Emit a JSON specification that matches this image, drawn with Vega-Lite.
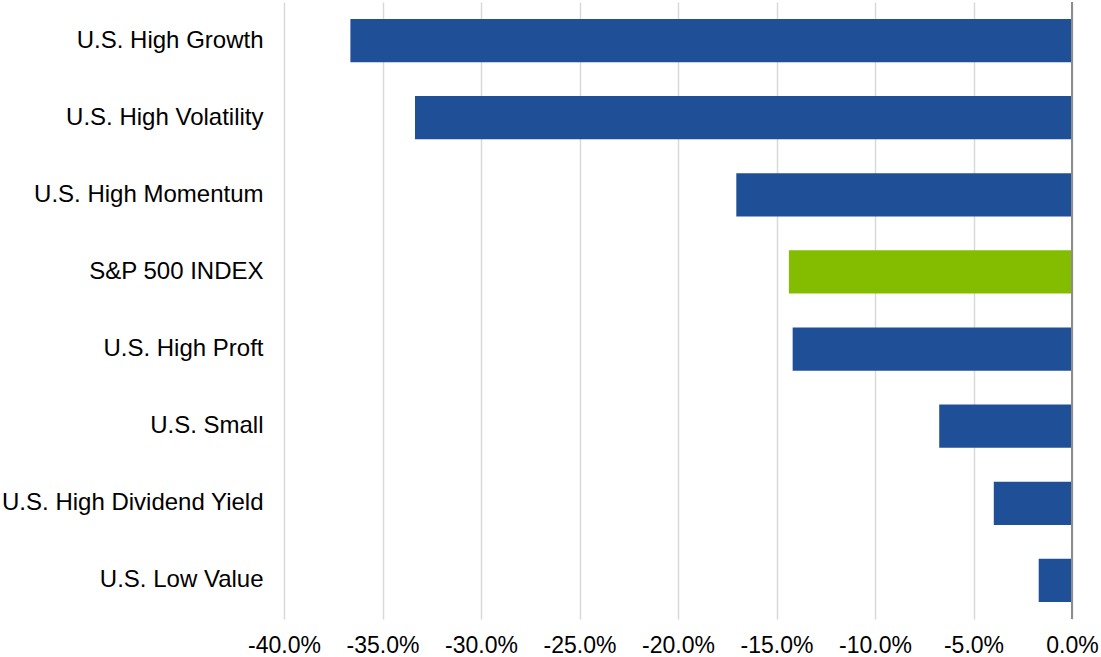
{
  "$schema": "https://vega.github.io/schema/vega-lite/v6.json",
  "width": 788,
  "height": 617,
  "autosize": "none",
  "padding": {"left": 284, "top": 2, "right": 29, "bottom": 38},
  "background": "white",
  "config": {"view": {"stroke": null}, "font": "Liberation Sans"},
  "data": {"values": [
    {"name": "U.S. High Growth", "value": -0.3663, "group": "factor"},
    {"name": "U.S. High Volatility", "value": -0.3335, "group": "factor"},
    {"name": "U.S. High Momentum", "value": -0.1704, "group": "factor"},
    {"name": "S&P 500 INDEX", "value": -0.1437, "group": "index"},
    {"name": "U.S. High Proft", "value": -0.1418, "group": "factor"},
    {"name": "U.S. Small", "value": -0.0674, "group": "factor"},
    {"name": "U.S. High Dividend Yield", "value": -0.0397, "group": "factor"},
    {"name": "U.S. Low Value", "value": -0.0169, "group": "factor"}
  ]},
  "layer": [
    {
      "mark": {"type": "bar"},
      "encoding": {
        "y": {
          "field": "name", "type": "nominal", "sort": null,
          "scale": {"paddingInner": 0.44, "paddingOuter": 0.22},
          "axis": {"title": null, "domain": false, "ticks": false, "labelFontSize": 24, "labelColor": "#000000", "labelPadding": 21, "labelLimit": 400}
        },
        "x": {
          "field": "value", "type": "quantitative",
          "scale": {"domain": [-0.4, 0], "nice": false},
          "axis": {"title": null, "labelExpr": "replace(format(datum.value, '.1%'), '\u2212', '-')", "values": [-0.4, -0.35, -0.3, -0.25, -0.2, -0.15, -0.1, -0.05, 0], "domain": false, "ticks": false, "labelFontSize": 23, "labelColor": "#000000", "labelPadding": 15, "grid": true, "gridColor": "#d9d9d9", "gridWidth": 1.5, "labelFlush": false, "labelOverlap": false}
        },
        "color": {
          "field": "group", "type": "nominal",
          "scale": {"domain": ["factor", "index"], "range": ["#1f5097", "#84bd00"]},
          "legend": null
        }
      }
    },
    {
      "mark": {"type": "rule", "color": "#8c8c8c", "strokeWidth": 1.5},
      "encoding": {"x": {"datum": 0, "type": "quantitative"}}
    }
  ]
}
